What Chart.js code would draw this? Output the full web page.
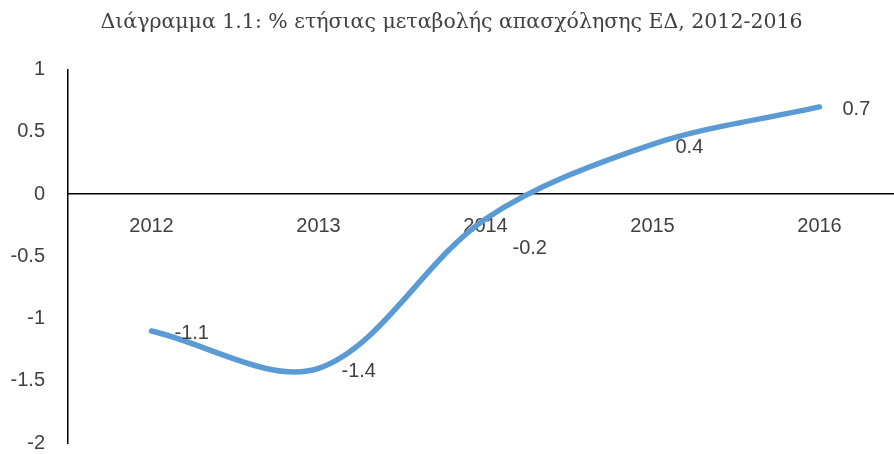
<!DOCTYPE html>
<html>
<head>
<meta charset="utf-8">
<script src="https://cdn.jsdelivr.net/npm/chart.js@4/dist/chart.umd.min.js"></script>
<style>
  html, body { margin: 0; padding: 0; background: #fff; overflow: hidden; }
  #wrap { width: 903px; height: 454px; }
</style>
</head>
<body>
<div id="wrap"><canvas id="chart" width="903" height="454"></canvas></div>
<script>
// values
const titleText = 'Διάγραμμα 1.1: % ετήσιας μεταβολής απασχόλησης ΕΔ, 2012-2016'
const years = ['2012', '2013', '2014', '2015', '2016']
const changePct = [-1.1, -1.4, -0.2, 0.4, 0.7]
const yTicks = [-2, -1.5, -1, -0.5, 0, 0.5, 1]

const textColor = '#404040'
const tickFont = { family: "'Liberation Sans', Arial, sans-serif", size: 20 }

// simple value labels to the right of each point (no datalabels plugin offline)
const valueLabels = {
  id: 'valueLabels',
  afterDatasetsDraw(chart) {
    const ctx = chart.ctx
    const meta = chart.getDatasetMeta(0)
    ctx.save()
    ctx.font = tickFont.size + 'px ' + tickFont.family
    ctx.fillStyle = textColor
    ctx.textAlign = 'left'
    ctx.textBaseline = 'middle'
    meta.data.forEach((pt, i) => {
      let dx = 23, dy = 3
      // Excel nudged the 2014 label down, clear of the category text
      if (i === 2) { dx = 27; dy = 30 }
      ctx.fillText(String(changePct[i]), pt.x + dx, pt.y + dy)
    })
    ctx.restore()
  }
}

const chart = new Chart(document.getElementById('chart'), {
  type: 'line',
  data: {
    labels: years,
    datasets: [{
      data: changePct,
      borderColor: '#5B9BD5',
      borderWidth: 5.5,
      borderCapStyle: 'round',
      tension: 0.33,
      pointRadius: 0,
      fill: false
    }]
  },
  options: {
    responsive: false,
    animation: false,
    layout: { padding: { left: 0, right: 0, top: 0, bottom: 11 } },
    plugins: {
      legend: { display: false },
      tooltip: { enabled: false },
      title: {
        display: true,
        text: titleText,
        color: textColor,
        font: { family: "'DejaVu Serif', serif", size: 20.5, weight: 'normal' },
        padding: { top: 10, bottom: 35 }
      }
    },
    scales: {
      x: {
        position: { y: 0 },
        offset: true,
        afterFit: (scale) => { scale.height = 0 },
        grid: { display: false, drawTicks: false },
        border: { display: true, color: '#000', width: 1.5 },
        ticks: { color: textColor, font: tickFont, padding: 20, maxRotation: 0 }
      },
      y: {
        min: -2,
        max: 1,
        afterBuildTicks: (scale) => { scale.ticks = yTicks.map(v => ({ value: v })) },
        afterFit: (scale) => {
          scale.width = 68
          // the big tick padding otherwise eats into the plot height
          scale.paddingTop = 0
          scale.paddingBottom = 0
        },
        grid: { display: false, drawTicks: false },
        border: { display: true, color: '#000', width: 1.5 },
        ticks: { color: textColor, font: tickFont, padding: 23, callback: (v) => String(v) }
      }
    }
  },
  plugins: [valueLabels]
})
</script>
</body>
</html>
